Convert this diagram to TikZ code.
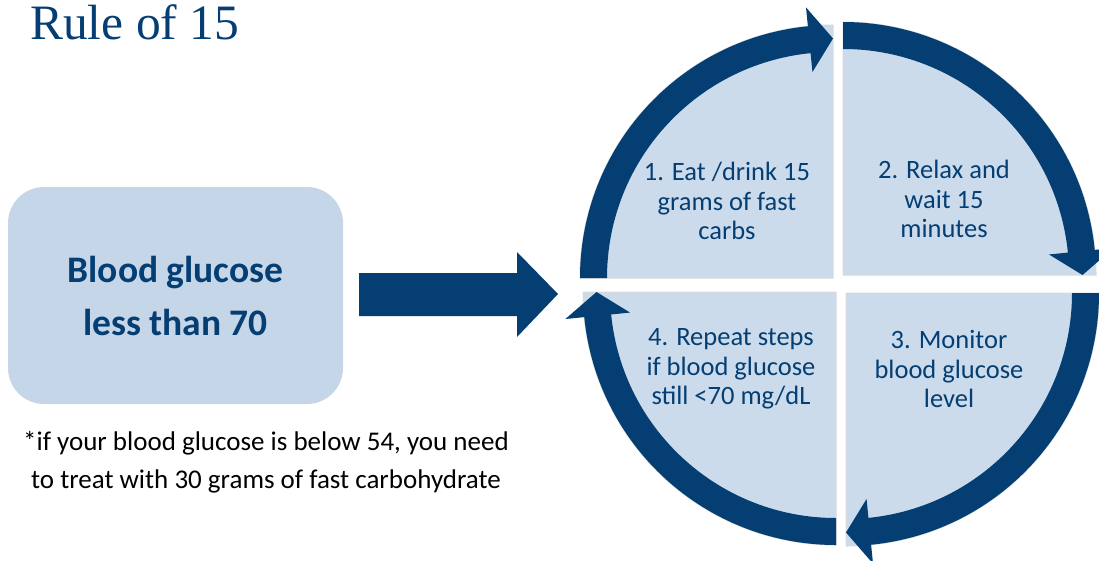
\documentclass[tikz,border=0pt]{standalone}
\usepackage{fontspec}
\setmainfont{Carlito}
\newfontfamily\titlefont{Liberation Serif}
\definecolor{ruleblue}{RGB}{4,62,114}
\definecolor{boxfill}{RGB}{198,214,233}
\definecolor{quadfill}{RGB}{204,219,236}
\tikzset{
  steptext/.style={text=ruleblue,align=center,font=\fontsize{26.5}{29.5}\selectfont},
  quadrant/.style={fill=quadfill,draw=gray!30,line width=1pt},
}
\begin{document}
\begin{tikzpicture}[x=1pt,y=1pt]
        \useasboundingbox (0,0) rectangle (1099,-560);
        \node [anchor=base west,inner sep=0,text=ruleblue,font=\titlefont\fontsize{49.5}{52}\selectfont] (title) at (30,-39) {Rule of 15};
        \node [fill=boxfill,rounded corners=36pt,minimum width=335pt,minimum height=217pt,text=ruleblue,align=center,font=\bfseries\fontsize{37.5}{53}\selectfont] (low) at (175.5,-295.5) {Blood glucose\\less than 70};
        \node [anchor=base,align=center,font=\fontsize{27}{38}\selectfont] (note) at (266,-488) {*if your blood glucose is below 54, you need\\to treat with 30 grams of fast carbohydrate};
        \fill [ruleblue] (359,-273) -- (517,-273) -- (517,-252) -- (558,-294) -- (517,-337) -- (517,-316) -- (359,-316) -- cycle;
        \foreach \cx/\cy/\a in {833/-278/90, 843/-275/0, 846/-293/-90, 836/-292/180} {
            \begin{scope}[shift={(\cx,\cy)}]
                \filldraw [quadrant] (0,0) -- (\a:253) arc [start angle=\a,end angle=\a+90,radius=253] -- cycle;
                \fill [ruleblue] (\a+90:253) arc [start angle=\a+90,end angle=\a+5.7,radius=253] -- (\a+5.7:272) -- (\a:239.5) -- (\a+5.7:207) -- (\a+5.7:226) arc [start angle=\a+5.7,end angle=\a+90,radius=226] -- cycle;
            \end{scope}
        }
        \node [steptext] (eat) at (727,-201) {1. Eat /drink 15\\grams of fast\\carbs};
        \node [steptext] (wait) at (944,-199) {2. Relax and\\wait 15\\minutes};
        \node [steptext] (check) at (949,-369) {3. Monitor\\blood glucose\\level};
        \node [steptext] (repeat) at (731,-369) {4. Repeat steps\\if blood glucose\\still <70 mg/dL};
\end{tikzpicture}
\end{document}
